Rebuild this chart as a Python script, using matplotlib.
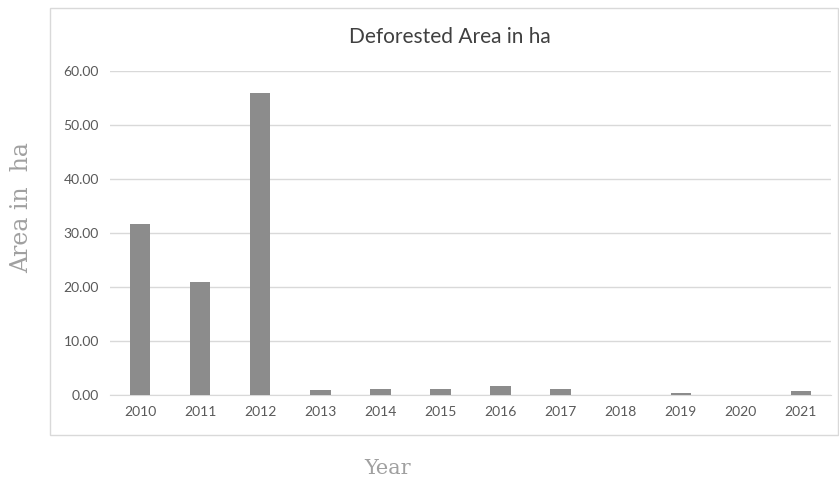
import matplotlib.pyplot as plt
from matplotlib.patches import Rectangle

# data
years = ['2010', '2011', '2012', '2013', '2014', '2015', '2016', '2017', '2018', '2019', '2020', '2021']
area = [31.7, 20.9, 55.9, 0.9, 1.2, 1.2, 1.6, 1.1, 0.0, 0.4, 0.0, 0.7]
yticks = [0, 10, 20, 30, 40, 50, 60]

fig = plt.figure(figsize=(8.39, 4.8), dpi=100)

# outer chart frame
fig.patches.append(Rectangle((50 / 839, 1 - 435 / 480), 788 / 839, 427 / 480,
                             transform=fig.transFigure, fill=False,
                             edgecolor='#d9d9d9', linewidth=1))

ax = fig.add_axes([110 / 839, 1 - 395 / 480, 721 / 839, 324 / 480])
x = range(len(years))
ax.bar(x, area, width=0.34, color='#8c8c8c', zorder=3)

ax.set_xlim(-0.5, len(years) - 0.5)
ax.set_ylim(0, 60)
ax.set_xticks(list(x))
ax.set_xticklabels(years)
ax.set_yticks(yticks)
ax.set_yticklabels(['%.2f' % v for v in yticks])
ax.yaxis.grid(True, color='#d9d9d9', linewidth=1, zorder=0)
for s in ['top', 'right', 'left']:
    ax.spines[s].set_visible(False)
ax.spines['bottom'].set_color('#d9d9d9')
ax.tick_params(length=0, labelsize=10, colors='#595959', pad=8)
for lab in ax.get_xticklabels() + ax.get_yticklabels():
    lab.set_family('Lato')

fig.text(450 / 839, 1 - 37 / 480, 'Deforested Area in ha', ha='center', va='center',
         fontsize=15, color='#404040', family='Lato')
fig.text(22 / 839, 1 - 208 / 480, 'Area in  ha', rotation=90, ha='center', va='center',
         fontsize=17, color='#a0a0a0', family='DejaVu Serif')
fig.text(388 / 839, 1 - 468 / 480, 'Year', ha='center', va='center',
         fontsize=15, color='#a0a0a0', family='DejaVu Serif')

fig.savefig('out.png', dpi=100)
